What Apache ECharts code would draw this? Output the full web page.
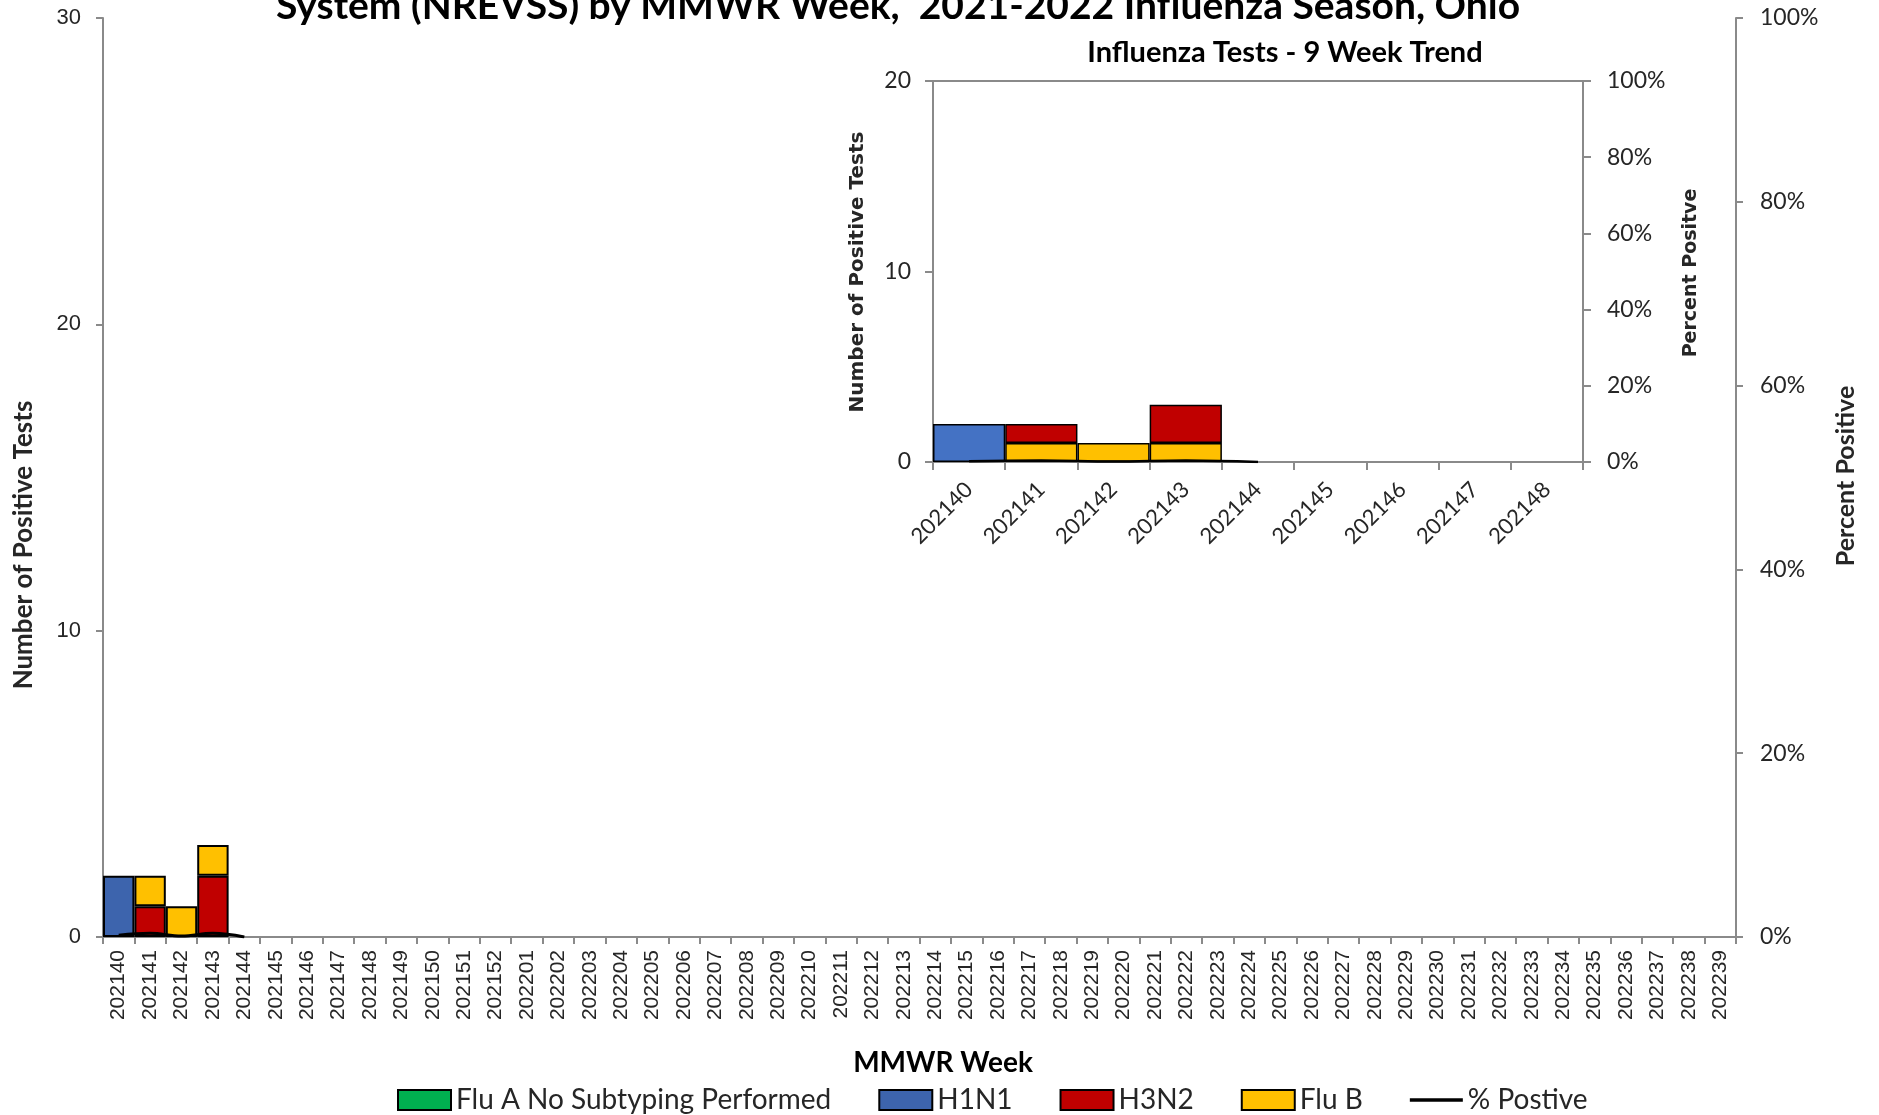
<!DOCTYPE html>
<html><head><meta charset="utf-8">
<script src="https://cdn.jsdelivr.net/npm/echarts@6/dist/echarts.min.js"></script>
<style>html,body{margin:0;padding:0;background:#fff}#c{width:1879px;height:1115px}</style>
</head><body><div id="c"></div>
<script>
// ---- data ----
const weeks = ['202140','202141','202142','202143','202144','202145','202146','202147','202148','202149','202150','202151','202152',
  '202201','202202','202203','202204','202205','202206','202207','202208','202209','202210','202211','202212','202213',
  '202214','202215','202216','202217','202218','202219','202220','202221','202222','202223','202224','202225','202226',
  '202227','202228','202229','202230','202231','202232','202233','202234','202235','202236','202237','202238','202239'];
const insetWeeks = ['202140','202141','202142','202143','202144','202145','202146','202147','202148'];
const fluA = [null, null, null, null, null];
const h1n1 = [2, null, null, null, null];
const h3n2 = [null, 1, null, 2, null];
const fluB = [null, 1, 1, 1, null];
const pctPositive = [0.2, 0.4, 0.1, 0.4, 0.0];
const leftTicks = {min: 0, max: 30, interval: 10};
const pctTicks = {min: 0, max: 100, interval: 20};
const insetLeftTicks = {min: 0, max: 20, interval: 10};
const names = ['Flu A No Subtyping Performed', 'H1N1', 'H3N2', 'Flu B', '% Postive'];

const CAL = 'Lato, "Open Sans", sans-serif';
const ARIAL = '"Liberation Sans", Arial, sans-serif';
const axisGray = '#8a8a8a';
const txt = '#262626';

const chart = echarts.init(document.getElementById('c'), null, {renderer: 'canvas'});

function barSeries(name, data, color, xi, yi, bw, z) {
  return {name, type: 'bar', stack: 's' + xi, xAxisIndex: xi, yAxisIndex: yi, data,
    barCategoryGap: '0%', itemStyle: {color, borderColor: '#000', borderWidth: bw}, z: z || 2, animation: false};
}

chart.setOption({
  animation: false,
  grid: [
    {left: 103, top: 18, width: 1633, height: 919},
    {left: 933, top: 81, width: 650, height: 381, show: true, borderColor: axisGray, borderWidth: 2, backgroundColor: 'rgba(255,255,255,0)', z: 5}
  ],
  xAxis: [
    {type: 'category', gridIndex: 0, data: weeks,
     axisLine: {lineStyle: {color: axisGray, width: 2}},
     axisTick: {show: true, interval: 0, length: 7, lineStyle: {color: axisGray, width: 2}},
     axisLabel: {interval: 0, rotate: 90, margin: 13, fontFamily: ARIAL, fontSize: 21, color: txt}},
    {type: 'category', gridIndex: 1, data: insetWeeks,
     axisLine: {lineStyle: {color: axisGray, width: 2}},
     axisTick: {show: true, interval: 0, length: 8, lineStyle: {color: axisGray, width: 2}},
     axisLabel: {interval: 0, rotate: 45, margin: 24, fontFamily: CAL, fontSize: 22, color: txt}}
  ],
  yAxis: [
    {type: 'value', gridIndex: 0, min: leftTicks.min, max: leftTicks.max, interval: leftTicks.interval, position: 'left',
     axisLine: {show: true, lineStyle: {color: axisGray, width: 2}},
     axisTick: {show: true, length: 7, lineStyle: {color: axisGray, width: 2}},
     splitLine: {show: false},
     axisLabel: {margin: 22, fontFamily: ARIAL, fontSize: 22, color: txt}},
    {type: 'value', gridIndex: 0, min: pctTicks.min, max: pctTicks.max, interval: pctTicks.interval, position: 'right',
     axisLine: {show: true, lineStyle: {color: axisGray, width: 2}},
     axisTick: {show: true, length: 7, lineStyle: {color: axisGray, width: 2}},
     splitLine: {show: false},
     axisLabel: {margin: 24, fontFamily: CAL, fontSize: 23, color: txt, formatter: '{value}%'}},
    {type: 'value', gridIndex: 1, min: insetLeftTicks.min, max: insetLeftTicks.max, interval: insetLeftTicks.interval, position: 'left',
     axisLine: {show: true, lineStyle: {color: axisGray, width: 2}},
     axisTick: {show: true, length: 8, lineStyle: {color: axisGray, width: 2}},
     splitLine: {show: false},
     axisLabel: {margin: 22, fontFamily: CAL, fontSize: 23, color: txt}},
    {type: 'value', gridIndex: 1, min: pctTicks.min, max: pctTicks.max, interval: pctTicks.interval, position: 'right',
     axisLine: {show: true, lineStyle: {color: axisGray, width: 2}},
     axisTick: {show: true, length: 8, lineStyle: {color: axisGray, width: 2}},
     splitLine: {show: false},
     axisLabel: {margin: 24, fontFamily: CAL, fontSize: 23, color: txt, formatter: '{value}%'}}
  ],
  legend: {
    left: 392, top: 1081, itemWidth: 53, itemHeight: 20, itemGap: 47,
    selectedMode: false,
    data: [
      {name: names[0], icon: 'rect'},
      {name: names[1], icon: 'rect'},
      {name: names[2], icon: 'rect'},
      {name: names[3], icon: 'rect'},
      {name: names[4], icon: 'path://M0,0 L53,0 L53,3.5 L0,3.5 Z'}
    ],
    textStyle: {fontFamily: CAL, fontSize: 28, color: txt, padding: [0, 0, 0, 0]}
  },
  series: [
    barSeries(names[0], fluA, '#00B050', 0, 0, 2),
    barSeries(names[1], h1n1, '#3D64AD', 0, 0, 2),
    barSeries(names[2], h3n2, '#C00000', 0, 0, 2),
    barSeries(names[3], fluB, '#FFC000', 0, 0, 2),
    {name: names[4], type: 'line', xAxisIndex: 0, yAxisIndex: 1, data: pctPositive, symbol: 'none', smooth: 0.4,
     lineStyle: {color: '#000', width: 3}, itemStyle: {color: '#000'}, z: 4},
    barSeries(names[0], fluA, '#00B050', 1, 2, 1.5, 6),
    barSeries(names[3], fluB, '#FFC000', 1, 2, 1.5, 6),
    barSeries(names[2], h3n2, '#C00000', 1, 2, 1.5, 6),
    barSeries(names[1], h1n1, '#4472C4', 1, 2, 1.5, 6),
    {name: names[4], type: 'line', xAxisIndex: 1, yAxisIndex: 3, data: pctPositive, symbol: 'none', smooth: 0.4,
     lineStyle: {color: '#000', width: 2.5}, itemStyle: {color: '#000'}, z: 7}
  ],
  graphic: [
    {type: 'text', x: 898, y: 26, z: 10, style: {text: 'System (NREVSS) by MMWR Week,  2021-2022 Influenza Season, Ohio',
      font: 'bold 39px ' + CAL, fill: '#000', align: 'center', verticalAlign: 'bottom'}},
    {type: 'text', x: 1285, y: 53, z: 10, style: {text: 'Influenza Tests - 9 Week Trend',
      font: 'bold 29px ' + CAL, fill: '#000', align: 'center', verticalAlign: 'middle'}},
    {type: 'text', x: 24, y: 545, rotation: Math.PI / 2, z: 10, style: {text: 'Number of Positive Tests',
      font: 'bold 26px ' + CAL, fill: txt, align: 'center', verticalAlign: 'middle'}},
    {type: 'text', x: 1846, y: 476, rotation: Math.PI / 2, z: 10, style: {text: 'Percent Positive',
      font: 'bold 25px ' + CAL, fill: txt, align: 'center', verticalAlign: 'middle'}},
    {type: 'text', x: 943, y: 1063, z: 10, style: {text: 'MMWR Week',
      font: 'bold 28px ' + CAL, fill: '#000', align: 'center', verticalAlign: 'middle'}},
    {type: 'text', x: 858, y: 272, rotation: Math.PI / 2, z: 10, style: {text: 'Number of Positive Tests',
      font: 'bold 20px "DejaVu Sans", sans-serif', fill: txt, align: 'center', verticalAlign: 'middle'}},
    {type: 'text', x: 1691, y: 273, rotation: Math.PI / 2, z: 10, style: {text: 'Percent Positve',
      font: 'bold 19px "DejaVu Sans", sans-serif', fill: txt, align: 'center', verticalAlign: 'middle'}}
  ]
});
</script></body></html>
